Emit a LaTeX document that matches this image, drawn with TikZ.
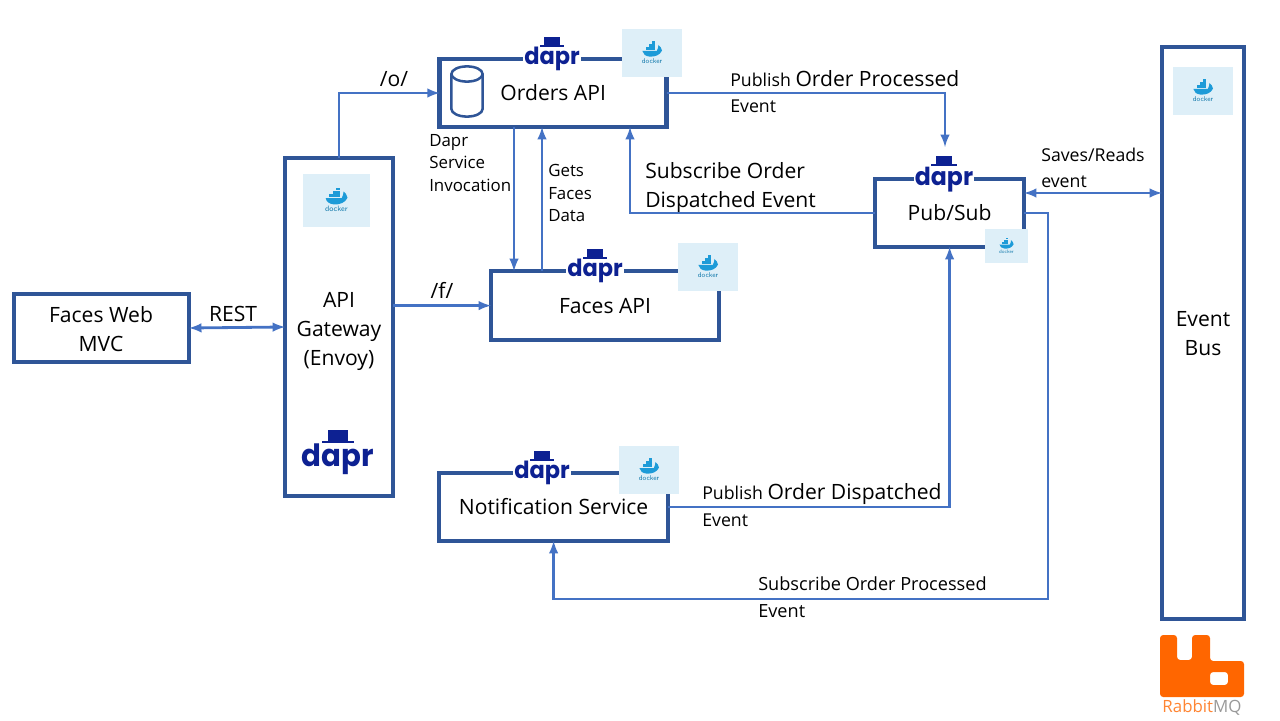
\documentclass[tikz,border=0pt]{standalone}
\usepackage{fontspec}
\setmainfont{Open Sans}
\newfontfamily\logofont{Poppins}
\usetikzlibrary{arrows}
\definecolor{boxblue}{HTML}{2F5597}
\definecolor{lineblue}{HTML}{4472C4}
\definecolor{daprblue}{HTML}{0D2192}
\definecolor{tileblue}{HTML}{DEEFF8}
\definecolor{whaleblue}{HTML}{1D9BD8}
\definecolor{rabbitorange}{HTML}{FF6600}
\newcommand{\bigtxt}{\fontsize{15}{20.6}\selectfont}
\newcommand{\smalltxt}{\fontsize{12.6}{19}\selectfont}
\tikzset{
  boxnode/.style={draw=boxblue, line width=3.2pt, fill=white, align=center, font=\bigtxt, inner sep=0pt, outer sep=0pt},
  conn/.style={draw=lineblue, line width=2pt, >=latex},
  tag/.style={align=left, anchor=west, inner sep=0pt, font=\smalltxt},
  bigtag/.style={align=center, inner sep=0pt, font=\bigtxt},
  daprlogo/.pic={
    \fill[white] (-0.72,-0.12) rectangle (0.72,0.12);
    \fill[daprblue] (-0.19,0.34) rectangle (0.19,0.55);
    \fill[daprblue] (-0.31,0.3) rectangle (0.31,0.35);
    \node[transform shape, yscale=1.05, anchor=base, inner sep=0pt, text=daprblue, font=\logofont\bfseries\fontsize{16}{16}\selectfont] (-word) at (0,-0.15) {dapr};
  },
  dockerlogo/.pic={
    \fill[tileblue] (-0.75,-0.6) rectangle (0.75,0.6);
    \fill[whaleblue] (-0.24,0.05) -- (0.12,0.05) .. controls (0.13,0.12) and (0.18,0.14) .. (0.16,0.2) .. controls (0.2,0.17) and (0.24,0.13) .. (0.25,0.06) .. controls (0.2,-0.05) and (0.08,-0.1) .. (-0.06,-0.09) .. controls (-0.16,-0.08) and (-0.23,-0.03) .. (-0.24,0.05) -- cycle;
    \fill[whaleblue] (-0.16,0.07) rectangle (0.07,0.14);
    \fill[whaleblue] (-0.08,0.15) rectangle (0.07,0.22);
    \fill[whaleblue] (0,0.23) rectangle (0.07,0.29);
    \node[transform shape, inner sep=0pt, text=whaleblue!80!black, font=\sffamily\fontsize{5}{5}\selectfont] (-word) at (0,-0.2) {docker};
  }
}

\begin{document}
\begin{tikzpicture}
\useasboundingbox (0,0) rectangle (32,18);

% boxes
\node[boxnode, minimum width=4.375cm, minimum height=1.7cm] (facesweb) at (2.54,9.8) {};
\node[boxnode, minimum width=2.7cm, minimum height=8.45cm] (gateway) at (8.475,9.825) {};
\node[boxnode, minimum width=5.675cm, minimum height=1.7cm] (orders) at (13.83,15.675) {Orders API};
\node[boxnode, minimum width=5.7cm, minimum height=1.725cm] (facesapi) at (15.125,10.36) {Faces API};
\node[boxnode, minimum width=3.725cm, minimum height=1.7cm] (pubsub) at (23.74,12.675) {Pub/Sub};
\node[boxnode, minimum width=5.725cm, minimum height=1.7cm] (notif) at (13.84,5.325) {Notification Service};
\node[boxnode, minimum width=2.05cm, minimum height=14.3cm] (eventbus) at (30.075,9.675) {};

% free ends
\coordinate (invx) at (12.85,0);
\coordinate (getx) at (13.55,0);
\coordinate (subx) at (15.75,0);
\coordinate (pubin) at (23.625,14.325);
\coordinate (savey) at (0,13.175);
\coordinate (turn) at (26.2,3.025);

% connectors
\draw[conn, <->] (facesweb.east) -- (gateway.west);
\draw[conn, ->] (gateway.north) |- (orders.west);
\draw[conn, ->] (gateway.east |- facesapi.west) -- (facesapi.west);
\draw[conn, ->] (orders.south -| invx) -- (facesapi.north -| invx);
\draw[conn, ->] (facesapi.north -| getx) -- (orders.south -| getx);
\draw[conn, ->] (orders.east) -| (pubin);
\draw[conn, ->] (pubsub.west) -| (orders.south -| subx);
\draw[conn, ->] (notif.east) -| (pubsub.south);
\draw[conn, ->] (pubsub.east) -| (turn) -| (notif.south);
\draw[conn, <->] (pubsub.east |- savey) -- (eventbus.west |- savey);

% cylinder in orders
\draw[boxblue, line width=1.8pt] (11.285,16.15) arc (180:0:0.39 and 0.19) -- (12.065,15.275) arc (0:-180:0.39 and 0.19) -- cycle;
\draw[boxblue, line width=1.8pt] (11.285,16.15) arc (180:360:0.39 and 0.19);

% logos
\pic (orderstile) at (16.3,16.675) {dockerlogo};
\pic (facestile) at (17.7,11.325) {dockerlogo};
\pic (notiftile) at (16.225,6.25) {dockerlogo};
\pic[scale=0.72] (pubtile) at (25.16,11.85) {dockerlogo};
\pic[scale=1.11] (gatetile) at (8.41,12.99) {dockerlogo};
\pic (bustile) at (30.075,15.725) {dockerlogo};
\pic (ordersdapr) at (13.8,16.525) {daprlogo};
\pic (facesdapr) at (14.875,11.225) {daprlogo};
\pic (notifdapr) at (13.55,6.175) {daprlogo};
\pic[scale=1.05] (pubdapr) at (23.6,13.525) {daprlogo};
\pic[scale=1.3] (gatedapr) at (8.45,6.525) {daprlogo};

% labels
\node[bigtag] (webtxt) at (2.525,9.77) {Faces Web\\MVC};
\node[bigtag] (gatetxt) at (8.475,9.72) {API\\Gateway\\(Envoy)};
\node[bigtag] (bustxt) at (30.075,9.65) {Event\\Bus};
\node[bigtag] (resttag) at (5.825,10.15) {REST};
\node[bigtag] (otag) at (9.85,16.025) {/o/};
\node[bigtag] (ftag) at (11.05,10.75) {/f/};
\node[tag, font=\fontsize{12}{16}\selectfont] (invoketag) at (10.725,13.925) {Dapr\\Service\\Invocation};
\node[tag, font=\fontsize{12}{16}\selectfont] (getstag) at (13.7,13.175) {Gets\\Faces\\Data};
\node[tag] (pubproc) at (18.25,15.71) {Publish {\bigtxt Order Processed}\\Event};
\node[tag, font=\bigtxt] (subdisp) at (16.125,13.31) {Subscribe Order\\Dispatched Event};
\node[tag] (savestag) at (26.025,13.8) {Saves/Reads\\event};
\node[tag] (pubdisp) at (17.55,5.375) {Publish {\bigtxt Order Dispatched}\\Event};
\node[tag, font=\fontsize{12.9}{19}\selectfont] (subproc) at (18.95,3.075) {Subscribe Order Processed\\Event};

% rabbit
\fill[rabbitorange, rounded corners=0.08cm, even odd rule] (29,2.125) -- (29.425,2.125) -- (29.425,1.5) -- (29.8,1.5) -- (29.8,2.125) -- (30.25,2.125) -- (30.25,1.475) -- (31.1,1.475) -- (31.1,0.575) -- (29,0.575) -- cycle
  (30.25,1.2) -- (30.7,1.2) -- (30.7,0.875) -- (30.25,0.875) -- cycle;
\node[inner sep=0pt, font=\fontsize{12}{12}\selectfont] (rabbittxt) at (30.05,0.3) {\textcolor{rabbitorange!80}{Rabbit}\textcolor{gray!80}{MQ}};
\end{tikzpicture}
\end{document}
